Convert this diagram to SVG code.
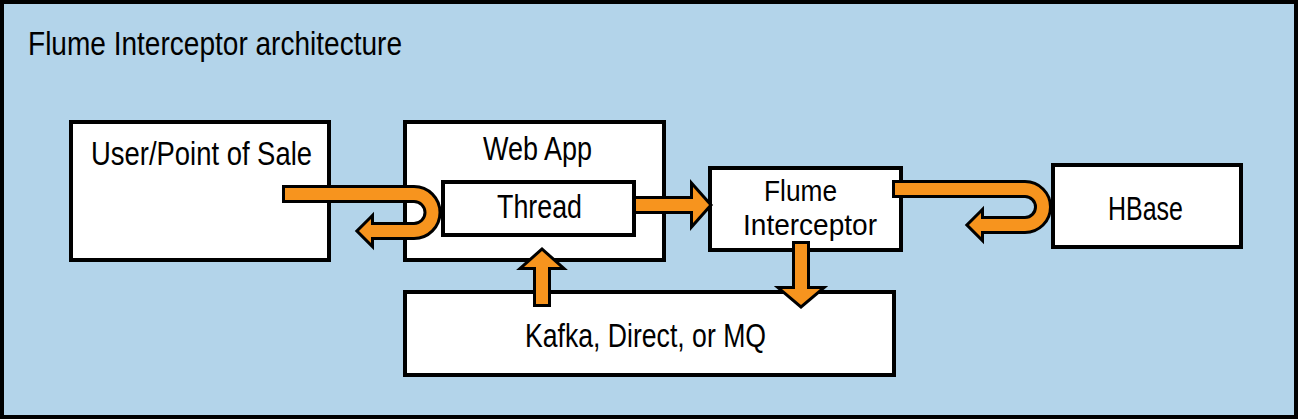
<svg xmlns="http://www.w3.org/2000/svg" width="1298" height="420" viewBox="0 0 1298 420">
<defs>
<style>
.box{fill:#ffffff;stroke:#000000;stroke-width:4}
.t{font-family:"Liberation Sans",Arial,sans-serif;font-size:33px;fill:#000000}
.t2{font-family:"Liberation Sans",Arial,sans-serif;font-size:30px;fill:#000000}
.sb{fill:none;stroke:#000000;stroke-width:18}
.so{fill:none;stroke:#f7941e;stroke-width:12}
.hb{fill:#000000;stroke:#000000;stroke-width:6;stroke-linejoin:miter}
.ho{fill:#f7941e;stroke:none}
</style>
</defs>
<rect x="2" y="2" width="1294" height="415" fill="#b3d4ea" stroke="#000000" stroke-width="4"/>
<text class="t" x="28" y="55" textLength="374" lengthAdjust="spacingAndGlyphs">Flume Interceptor architecture</text>
<g id="user">
<rect class="box" x="71" y="122" width="258" height="138"/>
<text class="t" x="91" y="165" textLength="221" lengthAdjust="spacingAndGlyphs">User/Point of Sale</text>
</g>
<g id="webapp">
<rect class="box" x="405" y="122" width="259" height="138"/>
<text class="t" x="483" y="160" textLength="109" lengthAdjust="spacingAndGlyphs">Web App</text>
</g>
<g id="thread">
<rect class="box" x="443" y="182" width="191" height="53"/>
<text class="t" x="497" y="218" textLength="85" lengthAdjust="spacingAndGlyphs">Thread</text>
</g>
<g id="flume">
<rect class="box" x="710" y="168" width="191" height="82"/>
<text class="t2" x="764" y="201" textLength="73" lengthAdjust="spacingAndGlyphs">Flume</text>
<text class="t2" x="743" y="235" textLength="134" lengthAdjust="spacingAndGlyphs">Interceptor</text>
</g>
<g id="hbase">
<rect class="box" x="1053" y="165" width="188" height="82"/>
<text class="t" x="1108" y="220" textLength="75" lengthAdjust="spacingAndGlyphs">HBase</text>
</g>
<g id="kafka">
<rect class="box" x="405" y="292" width="489" height="83"/>
<text class="t" x="525" y="347" textLength="241" lengthAdjust="spacingAndGlyphs">Kafka, Direct, or MQ</text>
</g>
<g id="connectors">
<path class="sb" d="M282 194 H414 A18.5 18.5 0 0 1 414 231 H370"/>
<polygon class="hb" points="371,219 359,231 371,243"/>
<path class="sb" d="M633 205 H695"/>
<polygon class="hb" points="693,187 709,205 693,223"/>
<path class="sb" d="M892 189 H1025 A18 18 0 0 1 1025 225 H980"/>
<polygon class="hb" points="981,213 969,225 981,237"/>
<path class="sb" d="M542 307 V266"/>
<polygon class="hb" points="524,267 542,251 560,267"/>
<path class="sb" d="M801 241 V291"/>
<polygon class="hb" points="782,289 801,305 820,289"/>
<path class="so" d="M285 194 H414 A18.5 18.5 0 0 1 414 231 H370"/>
<polygon class="ho" points="371,219 359,231 371,243"/>
<path class="so" d="M636 205 H695"/>
<polygon class="ho" points="693,187 709,205 693,223"/>
<path class="so" d="M895 189 H1025 A18 18 0 0 1 1025 225 H980"/>
<polygon class="ho" points="981,213 969,225 981,237"/>
<path class="so" d="M542 304 V266"/>
<polygon class="ho" points="524,267 542,251 560,267"/>
<path class="so" d="M801 244 V291"/>
<polygon class="ho" points="782,289 801,305 820,289"/>
</g>
</svg>
